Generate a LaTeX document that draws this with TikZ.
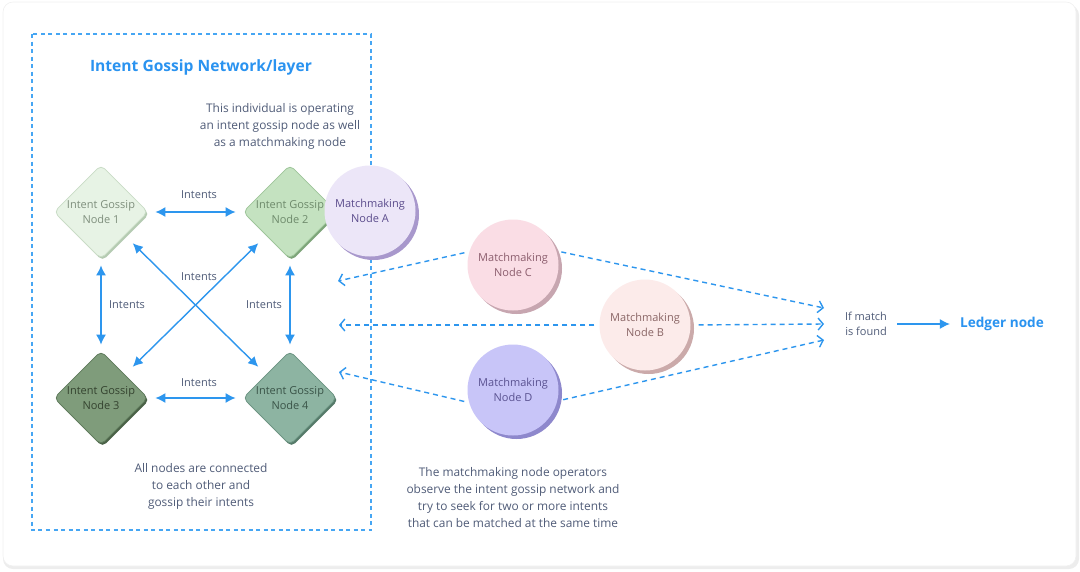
\documentclass[tikz,border=0pt]{standalone}
\usepackage{fontspec}
\setmainfont{Open Sans}
\usetikzlibrary{shapes.geometric,arrows.meta,shadows}
\definecolor{txt}{HTML}{505C78}
\definecolor{arr}{HTML}{2D96EE}
\definecolor{boxc}{HTML}{46A6F3}
\definecolor{ttl}{HTML}{2A93F0}
\definecolor{gaf}{HTML}{E7F3E5}\definecolor{gad}{HTML}{C9DCC6}\definecolor{gas}{HTML}{B5CBB2}\definecolor{gat}{HTML}{7F8F7D}
\definecolor{gbf}{HTML}{C4E2C0}\definecolor{gbd}{HTML}{9EC59A}\definecolor{gbs}{HTML}{7EA57A}\definecolor{gbt}{HTML}{6E8A6B}
\definecolor{gcf}{HTML}{7F9C7B}\definecolor{gcd}{HTML}{5F7A5C}\definecolor{gcs}{HTML}{4A6247}\definecolor{gct}{HTML}{34432F}
\definecolor{gdf}{HTML}{8DB4A2}\definecolor{gdd}{HTML}{6B9382}\definecolor{gds}{HTML}{557A69}\definecolor{gdt}{HTML}{3A5448}
\definecolor{maf}{HTML}{ECE6F8}\definecolor{mas}{HTML}{A898CC}\definecolor{mat}{HTML}{5B4C8C}
\definecolor{mcf}{HTML}{FADDE5}\definecolor{mcs}{HTML}{C7A6B0}\definecolor{mct}{HTML}{8C5E6E}
\definecolor{mbf}{HTML}{FCEBEA}\definecolor{mbs}{HTML}{CBAAAA}\definecolor{mbt}{HTML}{8A6666}
\definecolor{mdf}{HTML}{C8C5F8}\definecolor{mds}{HTML}{8E88CC}\definecolor{mdt}{HTML}{5A5291}
\newcommand{\ftxt}{\fontsize{11.9}{17}\selectfont}
\newcommand{\fsmall}{\fontsize{11}{15}\selectfont}
\begin{document}
\begin{tikzpicture}[x=1pt,y=-1pt,
  gdia/.style={diamond, aspect=1, minimum width=94pt, minimum height=94pt, inner sep=0pt, rounded corners=5pt, line width=0.8pt},
  gtext/.style={align=center, font=\fsmall, inner sep=0pt},
  mm/.style={circle, minimum size=91pt, inner sep=0pt, align=center, font=\fsmall},
  iarrow/.style={{Latex[length=10pt,width=10pt]}-{Latex[length=10pt,width=10pt]}, draw=arr, line width=1.4pt},
  darr/.style={-{Straight Barb[length=5pt,width=12pt]}, draw=arr, line width=1.4pt, dash pattern=on 5pt off 4pt},
  lbl/.style={font=\fsmall, text=txt, inner sep=1pt},
  desc/.style={font=\ftxt, text=txt, align=center, inner sep=0pt}]
\useasboundingbox (0,0) rectangle (1080,571);
% card
\fill[black!7, rounded corners=10pt] (3,5) rectangle (1079,569);
\fill[white, rounded corners=10pt] (3,2) rectangle (1076,566);
\draw[black!6, line width=0.6pt, rounded corners=10pt] (3,2) rectangle (1076,566);
% network box
\draw[boxc, line width=1.3pt, dash pattern=on 4pt off 3.5pt] (32,34) rectangle (371,530);
\node[font=\fontsize{15.6}{18}\selectfont\bfseries, text=ttl] (title) at (201,67) {Intent Gossip Network/layer};
\node[desc] (indiv) at (280,126) {This individual is operating\\an intent gossip node as well\\as a matchmaking node};
% diamonds
\node[gdia, fill=gaf, draw=gad, drop shadow={fill=gas, opacity=1, shadow xshift=1.5pt, shadow yshift=-2pt}] (g1) at (101,212) {};
\node[gdia, fill=gbf, draw=gbd, drop shadow={fill=gbs, opacity=1, shadow xshift=1.5pt, shadow yshift=-2pt}] (g2) at (290,212) {};
\node[gdia, fill=gcf, draw=gcd, drop shadow={fill=gcs, opacity=1, shadow xshift=1.5pt, shadow yshift=-2pt}] (g3) at (101,398) {};
\node[gdia, fill=gdf, draw=gdd, drop shadow={fill=gds, opacity=1, shadow xshift=1.5pt, shadow yshift=-2pt}] (g4) at (290,398) {};
\node[gtext, text=gat] (g1t) at (101,212) {Intent Gossip\\Node 1};
\node[gtext, text=gbt] (g2t) at (290,212) {Intent Gossip\\Node 2};
\node[gtext, text=gct] (g3t) at (101,398) {Intent Gossip\\Node 3};
\node[gtext, text=gdt] (g4t) at (290,398) {Intent Gossip\\Node 4};
% gossip arrows
\draw[iarrow, shorten <=7pt, shorten >=7pt] (g1) -- (g2);
\draw[iarrow, shorten <=7pt, shorten >=7pt] (g3) -- (g4);
\draw[iarrow, shorten <=6pt, shorten >=6pt] (g1) -- (g3);
\draw[iarrow, shorten <=6pt, shorten >=6pt] (g2) -- (g4);
\draw[iarrow, shorten <=11pt, shorten >=11pt] (g1) -- (g4);
\draw[iarrow, shorten <=11pt, shorten >=11pt] (g2) -- (g3);
\node[lbl] (l12) at (199,195) {Intents};
\node[lbl] (l34) at (199,383) {Intents};
\node[lbl] (l13) at (127,305) {Intents};
\node[lbl] (l24) at (264,305) {Intents};
\node[lbl] (lx) at (199,277) {Intents};
\node[desc] (allnodes) at (201,486) {All nodes are connected\\to each other and\\gossip their intents};
% matchmaking nodes
\node[mm, fill=maf, text=mat, drop shadow={fill=mas, opacity=1, shadow xshift=3.5pt, shadow yshift=-3.5pt}] (mA) at (370,211) {Matchmaking\\Node A};
\node[mm, fill=mcf, text=mct, drop shadow={fill=mcs, opacity=1, shadow xshift=3.5pt, shadow yshift=-3.5pt}] (mC) at (513,265) {Matchmaking\\Node C};
\node[mm, fill=mbf, text=mbt, drop shadow={fill=mbs, opacity=1, shadow xshift=3.5pt, shadow yshift=-3.5pt}] (mB) at (645,325) {Matchmaking\\Node B};
\node[mm, fill=mdf, text=mdt, drop shadow={fill=mds, opacity=1, shadow xshift=3.5pt, shadow yshift=-3.5pt}] (mD) at (513,390) {Matchmaking\\Node D};
% endpoints
\coordinate (lC) at (338,281);
\coordinate (lB) at (339,325);
\coordinate (lD) at (339,372);
\coordinate (rC) at (824,308);
\coordinate (rB) at (824,324);
\coordinate (rD) at (824,340);
\draw[darr, shorten <=5pt] (mC.163) -- (lC);
\draw[darr, shorten <=5pt] (mB.west) -- (lB);
\draw[darr, shorten <=5pt] (mD.196) -- (lD);
\draw[darr, shorten <=5pt] (mC.18) -- (rC);
\draw[darr, shorten <=8pt] (mB.east) -- (rB);
\draw[darr, shorten <=6pt] (mD.-14) -- (rD);
\node[desc] (mmdesc) at (513,498) {The matchmaking node operators\\observe the intent gossip network and\\try to seek for two or more intents\\that can be matched at the same time};
% result
\node[font=\fsmall, text=txt, align=center, inner sep=0pt] (ifm) at (866,324) {If match\\is found};
\node[font=\fontsize{13.6}{15}\selectfont\bfseries, text=ttl, inner sep=0pt] (ledger) at (1002,324) {Ledger node};
\draw[-{Latex[length=10pt,width=10pt]}, draw=arr, line width=1.4pt, shorten <=10pt, shorten >=10pt] (ifm) -- (ledger);
\end{tikzpicture}
\end{document}
